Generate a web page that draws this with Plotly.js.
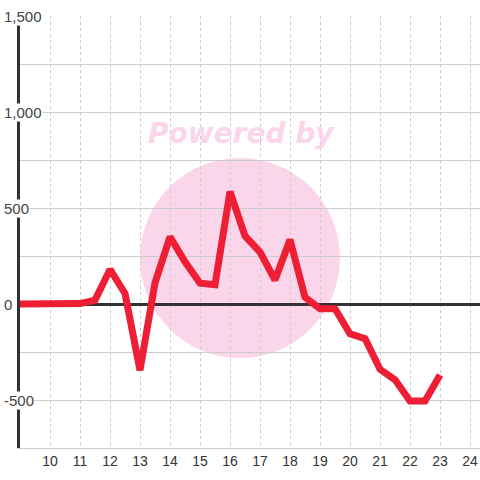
<!DOCTYPE html>
<html>
<head>
<meta charset="utf-8">
<script src="https://cdn.plot.ly/plotly-3.0.1.min.js"></script>
<style>html,body{margin:0;padding:0;background:#fff;}#chart{width:480px;height:480px;}</style>
</head>
<body>
<div id="chart"></div>
<script>
const hours = [9, 9.5, 10, 10.5, 11, 11.5, 12, 12.5, 13, 13.5, 14, 14.5, 15, 15.5, 16, 16.5, 17, 17.5, 18, 18.5, 19, 19.5, 20, 20.5, 21, 21.5, 22, 22.5, 23];
const values = [0, 0, 0, 0, 2, 20, 180, 55, -345, 110, 350, 220, 108, 100, 585, 355, 270, 125, 335, 35, -25, -25, -155, -180, -340, -395, -505, -505, -370];
const xTickVals = [10, 11, 12, 13, 14, 15, 16, 17, 18, 19, 20, 21, 22, 23, 24];
const yTickVals = [-500, 0, 500, 1000, 1500];
const yTickText = ['-500', '0', '500', '1,000', '1,500'];
const watermarkText = 'Powered by';

const trace = {
  x: hours, y: values, type: 'scatter', mode: 'lines',
  line: {color: '#EE1F35', width: 7},
  hoverinfo: 'skip'
};

const yLabelAnns = yTickVals.map((v, i) => ({
  xref: 'paper', yref: 'y', x: -0.036, y: v, xanchor: 'left', yanchor: 'middle',
  text: yTickText[i], showarrow: false, bgcolor: '#ffffff', borderpad: 0,
  font: {family: 'Liberation Sans, Arial, sans-serif', size: 15, color: '#444'}
}));

const layout = {
  width: 480, height: 480,
  margin: {l: 20, r: 0, t: 16, b: 32},
  paper_bgcolor: '#ffffff', plot_bgcolor: '#ffffff',
  showlegend: false,
  font: {family: 'Liberation Sans, Arial, sans-serif'},
  xaxis: {
    range: [9, 24.333], tickvals: xTickVals, ticks: '',
    showgrid: true, gridcolor: '#cccccc', griddash: 'dot', gridwidth: 1,
    showline: true, linecolor: '#cccccc', linewidth: 1,
    zeroline: false, fixedrange: true,
    tickfont: {size: 14, color: '#333'}
  },
  yaxis: {
    range: [-750, 1500], tickvals: yTickVals, showticklabels: false, ticks: '',
    showgrid: true, gridcolor: '#cccccc', gridwidth: 1,
    minor: {dtick: 250, tick0: 0, showgrid: true, gridcolor: '#cccccc', gridwidth: 1},
    zeroline: true, zerolinecolor: '#333333', zerolinewidth: 3,
    showline: true, linecolor: '#333333', linewidth: 3,
    fixedrange: true
  },
  shapes: [{
    type: 'circle', xref: 'paper', yref: 'paper', layer: 'below',
    x0: 0.2609, x1: 0.6957, y0: 0.2083, y1: 0.6713,
    fillcolor: '#FBD5EA', line: {width: 0}
  }],
  annotations: [{
    xref: 'paper', yref: 'paper', x: 0.4826, y: 0.729, xanchor: 'center', yanchor: 'middle',
    text: watermarkText, showarrow: false,
    font: {family: 'DejaVu Sans, sans-serif', size: 28, color: '#FBD5EA', weight: 'bold', style: 'italic'}
  }].concat(yLabelAnns)
};

Plotly.newPlot('chart', [trace], layout, {displayModeBar: false, staticPlot: true});
</script>
</body>
</html>
